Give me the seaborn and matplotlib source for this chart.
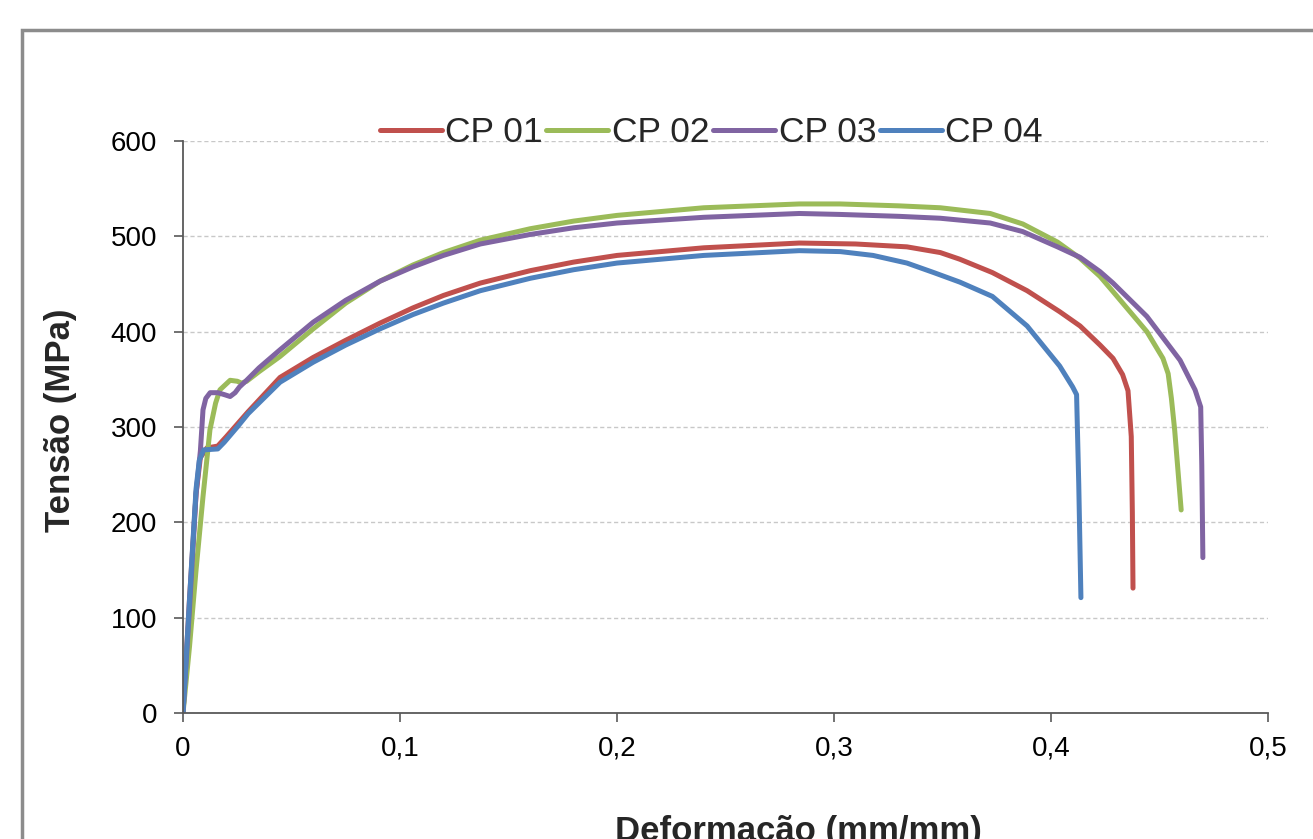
import matplotlib
matplotlib.use("Agg")
import matplotlib.pyplot as plt
from matplotlib.patches import Rectangle
import seaborn as sns
import pandas as pd

# strain (mm/mm) and stress (MPa)
cp01_x = [0, 0.003, 0.006, 0.008, 0.011, 0.016, 0.020, 0.025, 0.030, 0.0447, 0.060, 0.075,
          0.0908, 0.106, 0.120, 0.137, 0.160, 0.180, 0.200, 0.240, 0.284, 0.310, 0.3336,
          0.349, 0.358, 0.373, 0.389, 0.404, 0.4134, 0.4226, 0.4286, 0.433, 0.4355,
          0.437, 0.4375, 0.4378]
cp01_y = [0, 120, 230, 268, 278, 280, 290, 303, 316, 352, 373, 391,
          409, 425, 438, 451, 464, 473, 480, 488, 493, 492, 489,
          483, 476, 462, 443, 421, 406, 386, 372, 355, 338,
          290, 210, 131]

cp02_x = [0, 0.003, 0.006, 0.0092, 0.0124, 0.015, 0.017, 0.0217, 0.025, 0.027, 0.0293, 0.035,
          0.0447, 0.060, 0.075, 0.0908, 0.106, 0.120, 0.137, 0.160, 0.180, 0.200, 0.240,
          0.284, 0.3028, 0.330, 0.349, 0.372, 0.387, 0.403, 0.4134, 0.4226, 0.4286, 0.4442,
          0.4516, 0.454, 0.4555, 0.457, 0.460]
cp02_y = [0, 70, 150, 227, 297, 325, 339, 349, 348, 346, 348, 358,
          374, 403, 430, 453, 470, 483, 496, 508, 516, 522, 530,
          534, 534, 532, 530, 524, 513, 494, 477, 458, 442, 400,
          372, 356, 330, 297, 213]

cp03_x = [0, 0.003, 0.006, 0.008, 0.0092, 0.0105, 0.0125, 0.016, 0.019, 0.0217, 0.024, 0.026,
          0.0293, 0.035, 0.0447, 0.060, 0.075, 0.0908, 0.106, 0.120, 0.137, 0.160, 0.180,
          0.200, 0.240, 0.284, 0.3028, 0.330, 0.349, 0.372, 0.387, 0.403, 0.4134, 0.4226,
          0.4286, 0.4442, 0.4595, 0.4664, 0.469, 0.4695, 0.470]
cp03_y = [0, 110, 230, 275, 318, 330, 336, 336, 334, 332, 336, 342,
          349, 362, 381, 410, 433, 453, 468, 480, 492, 502, 509,
          514, 520, 524, 523, 521, 519, 514, 505, 489, 478, 463,
          451, 416, 370, 339, 321, 260, 163]

cp04_x = [0, 0.003, 0.006, 0.0075, 0.0095, 0.016, 0.019, 0.025, 0.030, 0.0447, 0.060, 0.075,
          0.0908, 0.106, 0.120, 0.137, 0.160, 0.180, 0.200, 0.240, 0.284, 0.303, 0.318,
          0.3336, 0.346, 0.358, 0.373, 0.389, 0.404, 0.410, 0.4118, 0.4128, 0.4138]
cp04_y = [0, 120, 235, 265, 276, 277, 284, 300, 314, 347, 368, 386,
          403, 418, 430, 443, 456, 465, 472, 480, 485, 484, 480,
          472, 462, 452, 437, 406, 364, 342, 334, 240, 121]

series = ["CP 01", "CP 02", "CP 03", "CP 04"]
colors = ["#C0504D", "#9BBB59", "#8064A2", "#4F81BD"]

frames = []
for name, xs, ys in zip(series, [cp01_x, cp02_x, cp03_x, cp04_x], [cp01_y, cp02_y, cp03_y, cp04_y]):
    frames.append(pd.DataFrame({"strain": xs, "stress": ys, "cp": name}))
df = pd.concat(frames, ignore_index=True)

sns.set_style("white")
plt.rcParams['font.family'] = ['Liberation Sans', 'DejaVu Sans']

fig = plt.figure(figsize=(13.13, 8.39), dpi=100)
ax = fig.add_axes([0.1394, 0.1502, 0.8263, 0.6817])

sns.lineplot(data=df, x="strain", y="stress", hue="cp", hue_order=series,
             palette=dict(zip(series, colors)), sort=False, estimator=None,
             linewidth=3.6, solid_capstyle='round', solid_joinstyle='round', ax=ax)

ax.set_xlim(0, 0.5)
ax.set_ylim(0, 600)
ax.set_xticks([0, 0.1, 0.2, 0.3, 0.4, 0.5])
ax.set_xticklabels(["0", "0,1", "0,2", "0,3", "0,4", "0,5"])
ax.set_yticks(range(0, 601, 100))
ax.tick_params(axis='both', labelsize=20, colors='#595959', labelcolor='black',
               direction='out', length=6.5, width=1.2)
ax.tick_params(axis='y', pad=12, left=True)
ax.tick_params(axis='x', pad=10, bottom=True)

ax.yaxis.grid(True, linestyle=(0, (3, 2)), color='#c8c8c8', linewidth=1)
ax.xaxis.grid(False)
ax.set_axisbelow(True)

for side in ['top', 'right']:
    ax.spines[side].set_visible(False)
for side in ['left', 'bottom']:
    ax.spines[side].set_color('#595959')
    ax.spines[side].set_linewidth(1.3)

ax.set_xlabel("")
ax.set_ylabel("")
ax.get_legend().remove()

fig.text(0.0457, 0.499, "Tensão (MPa)", rotation=90, fontsize=25, fontweight='bold',
         ha='center', va='center')
# the x label sits partly below the picture's lower edge, as in the reference
fig.text(0.608, -0.002, "Deformacão (mm/mm)", fontsize=25, fontweight='bold',
         ha='center', va='baseline')

handles = ax.get_lines()[:4]
fig.legend(handles, series, loc='center', bbox_to_anchor=(0.5417, 0.8415), ncol=4,
           frameon=False, fontsize=25.5, handlelength=1.75, handletextpad=0.1,
           columnspacing=0.1, borderpad=0)

fig.patches.append(Rectangle((0.0168, -0.05), 1.1, 0.9642 + 0.05, transform=fig.transFigure,
                             fill=False, edgecolor='#8c8c8c', linewidth=2.5))

fig.savefig("out.png", dpi=100)
